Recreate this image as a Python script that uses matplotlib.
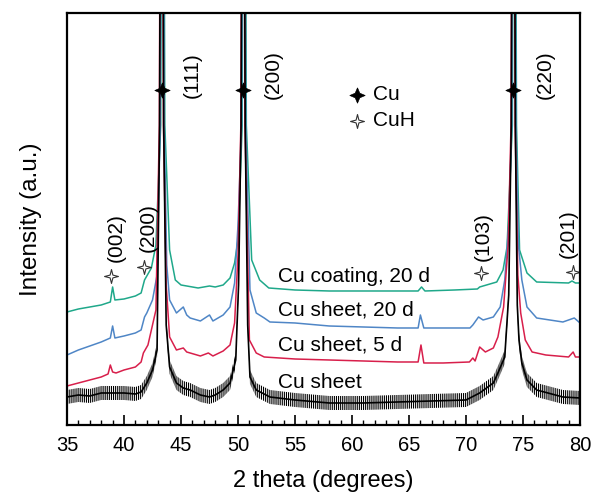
import numpy as np
import matplotlib
matplotlib.use('Agg')
import matplotlib.pyplot as plt
from matplotlib.path import Path

plt.rcParams['font.family'] = ['Liberation Sans', 'DejaVu Sans']
plt.rcParams['hatch.linewidth'] = 0.8

# XRD traces (2 theta in degrees, intensity in a.u.)
# peaks run off the top of the frame, so their tops are just "big"

sheet_tt = [35.0, 36.0, 37.0, 38.0, 39.0, 40.0, 41.0, 41.5, 42.0, 42.5, 42.9,
            43.12, 43.20, 43.40, 43.48, 43.7, 44.0, 44.6, 45.2, 45.8, 46.7,
            47.5, 48.0, 48.7, 49.3, 49.8, 50.05,
            50.27, 50.35, 50.55, 50.63, 50.85, 51.05, 51.6, 52.8, 55.0, 58.0,
            61.0, 64.0, 67.0, 70.0, 71.2, 72.4, 72.8, 73.4, 73.75,
            73.97, 74.05, 74.25, 74.33, 74.5, 74.65, 74.9, 75.35, 76.2, 78.5, 80.0]
sheet_I = [28, 30, 29, 32, 32, 32, 31, 33, 42, 55, 75,
           300, 600, 600, 300, 100, 58, 42, 37, 35, 30,
           28, 30, 35, 42, 65, 140,
           300, 600, 600, 300, 100, 48, 35, 28, 25, 22,
           22, 23, 24, 25, 32, 42, 52, 68, 130,
           300, 600, 600, 300, 120, 85, 62, 45, 35, 28, 27]
sheet_noise = 7  # half height of the noise band on the bare sheet

sheet5_tt = [35.0, 36.0, 37.0, 38.0, 38.6, 38.8, 39.0, 39.3, 40.0, 41.0, 41.5,
             41.7, 41.9, 42.1, 42.4, 42.8,
             43.10, 43.18, 43.38, 43.46, 43.7, 44.0, 44.6, 45.2, 45.5, 46.7,
             47.4, 47.8, 48.7, 49.3, 49.7, 50.0,
             50.25, 50.33, 50.53, 50.61, 51.0, 51.6, 52.3, 55.0, 58.0, 61.0,
             64.0, 65.8, 66.05, 66.3, 68.0, 70.3, 70.6, 70.8, 71.2, 71.7,
             72.4, 72.8, 73.3, 73.7,
             73.95, 74.03, 74.23, 74.31, 74.55, 74.8, 75.2, 75.8, 77.0, 79.0,
             79.4, 79.6, 80.0]
sheet5_I = [39, 42, 45, 48, 51, 60, 53, 52, 55, 58, 63,
            72, 76, 80, 95, 115,
            300, 600, 600, 300, 140, 88, 75, 77, 73, 69,
            72, 69, 74, 80, 102, 170,
            300, 600, 600, 300, 85, 72, 68, 66, 65, 64,
            63, 63, 80, 62, 62, 63, 67, 64, 78, 73,
            77, 88, 118, 180,
            300, 600, 600, 300, 150, 112, 85, 73, 70, 68,
            73, 68, 68]

sheet20_tt = [35.0, 36.0, 37.0, 38.0, 38.8, 39.0, 39.2, 40.0, 41.0, 41.5, 41.8,
              42.0, 42.5, 42.9,
              43.17, 43.25, 43.45, 43.53, 43.75, 44.0, 44.6, 45.2, 45.5, 45.8,
              46.7, 47.5, 47.8, 48.7, 49.3, 49.7, 50.0,
              50.32, 50.40, 50.60, 50.68, 51.05, 51.6, 52.3, 52.8, 55.0, 58.0,
              61.0, 64.0, 65.8, 66.0, 66.3, 68.0, 70.35, 70.6, 71.1, 71.5,
              72.4, 73.0, 73.4, 73.75,
              74.02, 74.10, 74.30, 74.38, 74.6, 74.9, 75.35, 76.2, 78.5, 79.5,
              80.0]
sheet20_I = [70, 75, 79, 83, 87, 99, 87, 89, 92, 95, 108,
             112, 125, 150,
             300, 600, 600, 300, 160, 125, 112, 118, 110, 107,
             104, 110, 104, 110, 118, 142, 200,
             300, 600, 600, 300, 135, 112, 107, 103, 102, 99,
             98, 97, 97, 110, 97, 97, 97, 100, 108, 105,
             108, 118, 145, 200,
             300, 600, 600, 300, 180, 145, 118, 107, 103, 107,
             102]

coat20_tt = [35.0, 36.0, 37.0, 38.0, 38.8, 39.0, 39.2, 40.0, 41.0, 41.5, 41.8,
             42.0, 42.4, 42.8,
             43.22, 43.30, 43.50, 43.58, 44.0, 44.5, 45.0, 45.5, 46.5, 47.5,
             48.0, 48.7, 49.3, 49.7, 50.0,
             50.37, 50.45, 50.65, 50.73, 51.2, 51.9, 52.7, 55.0, 58.0, 62.0,
             65.8, 66.1, 66.4, 69.0, 71.0, 71.2, 72.7, 73.25, 73.6,
             74.07, 74.15, 74.35, 74.43, 74.7, 75.35, 76.2, 79.0, 79.3, 79.6,
             80.0]
coat20_I = [113, 116, 118, 120, 123, 138, 125, 126, 129, 132, 145,
            149, 157, 180,
            300, 600, 600, 300, 175, 145, 140, 139, 137, 139,
            138, 140, 147, 162, 185,
            300, 600, 600, 300, 165, 145, 137, 135, 134, 134,
            134, 138, 134, 135, 136, 138, 143, 155, 178,
            300, 600, 600, 300, 175, 152, 143, 142, 144, 142,
            142]

trace_names = ['Cu coating, 20 d', 'Cu sheet, 20 d', 'Cu sheet, 5 d', 'Cu sheet']
trace_colors = ['#1fa88a', '#4f86c6', '#d81f4b', 'black']
name_y = [148, 115, 80, 42]

# phase markers and peak labels
cu_tt = [43.30, 50.45, 74.15]
cu_y = [335, 335, 335]
cu_hkl = ['(111)', '(200)', '(220)']
cu_lab_tt = [46.0, 53.1, 76.95]
cu_lab_y = [350, 350, 350]

cuh_tt = [38.86, 41.75, 71.3, 79.4]
cuh_y = [149, 158, 152, 153]
cuh_hkl = ['(002)', '(200)', '(103)', '(201)']
cuh_lab_tt = [39.35, 42.1, 71.55, 79.0]
cuh_lab_y = [187, 197, 188, 191]

# four pointed star markers
star_fill = Path([(0, 1), (0.3, 0.3), (1, 0), (0.3, -0.3), (0, -1),
                  (-0.3, -0.3), (-1, 0), (-0.3, 0.3), (0, 1)])
star_open = Path([(0, 1), (0.2, 0.2), (1, 0), (0.2, -0.2), (0, -1),
                  (-0.2, -0.2), (-1, 0), (-0.2, 0.2), (0, 1)])

fig = plt.figure(figsize=(5.92, 4.94), dpi=100)
ax = fig.add_axes([0.1132, 0.1397, 0.8665, 0.834])

ax.plot(coat20_tt, coat20_I, color=trace_colors[0], lw=1.1)
ax.plot(sheet20_tt, sheet20_I, color=trace_colors[1], lw=1.1)
ax.plot(sheet5_tt, sheet5_I, color=trace_colors[2], lw=1.1)
s_I = np.array(sheet_I)
# noisy bare-sheet pattern: hatched band of the noise height
ax.fill_between(sheet_tt, s_I - sheet_noise, s_I + sheet_noise, facecolor='none',
                edgecolor='black', hatch='||||||||', lw=0)
ax.plot(sheet_tt, sheet_I, color='black', lw=1.2)

for i in range(len(trace_names)):
    ax.text(53.5, name_y[i], trace_names[i], fontsize=15, va='center', ha='left')

ax.plot(cu_tt, cu_y, ls='none', marker=star_fill, ms=11, mfc='black', mec='black', mew=0.5)
for i in range(len(cu_hkl)):
    ax.text(cu_lab_tt[i], cu_lab_y[i], cu_hkl[i], fontsize=15, rotation=90, ha='center', va='center')

ax.plot(cuh_tt, cuh_y, ls='none', marker=star_open, ms=10, mfc='white', mec='#333333', mew=0.8)
for i in range(len(cuh_hkl)):
    ax.text(cuh_lab_tt[i], cuh_lab_y[i], cuh_hkl[i], fontsize=15, rotation=90, ha='center', va='center')

# legend made by hand
ax.plot([60.44], [330], ls='none', marker=star_fill, ms=11, mfc='black', mec='black', mew=0.5)
ax.text(61.8, 330, 'Cu', fontsize=15, va='center', ha='left')
ax.plot([60.44], [304], ls='none', marker=star_open, ms=10, mfc='white', mec='#333333', mew=0.8)
ax.text(61.8, 304, 'CuH', fontsize=15, va='center', ha='left')

ax.set_xlim(35, 80)
ax.set_ylim(0, 412)
ax.set_xticks(np.arange(35, 81, 5))
ax.set_xticks(np.arange(35, 81, 1), minor=True)
ax.set_yticks([])
ax.tick_params(axis='x', which='major', direction='in', length=7, width=1.2, labelsize=14.5, pad=8)
ax.tick_params(axis='x', which='minor', direction='in', length=3.5, width=1.0)
for sp in ax.spines.values():
    sp.set_linewidth(1.6)

ax.set_xlabel('2 theta (degrees)', fontsize=17, labelpad=11)
ax.set_ylabel('Intensity (a.u.)', fontsize=17.5, labelpad=18)

plt.savefig('out.png', dpi=100)
